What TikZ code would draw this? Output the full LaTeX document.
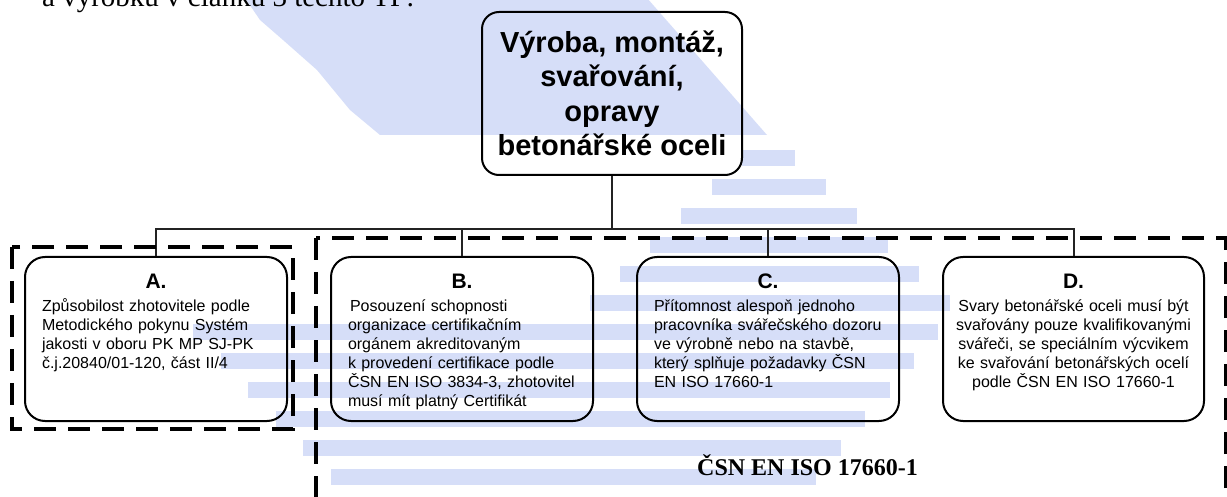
\documentclass[tikz,border=0pt]{standalone}
\usepackage{fontspec}
\setmainfont{Liberation Sans}
\newfontfamily\timesfont{Liberation Serif}
\usetikzlibrary{positioning}
\definecolor{wmblue}{RGB}{214,222,248}
\definecolor{linegray}{RGB}{35,35,35}

\newcommand{\boxhead}[1]{{\centering\fontsize{21}{24}\selectfont\bfseries #1\par}\vspace{4pt}}

\begin{document}
\begin{tikzpicture}[x=1pt, y=-1pt, node distance=42pt,
  topbox/.style={draw, line width=2pt, rounded corners=17pt, minimum width=260pt, minimum height=163pt, align=center, font=\fontsize{29}{34.5}\selectfont\bfseries},
  itembox/.style={draw, line width=2pt, rounded corners=20pt, anchor=north, inner xsep=17pt, inner ysep=8pt, text width=228pt, text height=24pt, text depth=124pt, align=left, font=\fontsize{16}{19}\selectfont},
  conn/.style={line width=2pt, draw=linegray},
  grp/.style={line width=3.5pt, dash pattern=on 22pt off 12pt},
  wm/.style={fill=wmblue, draw=none}]
	\useasboundingbox (0,0) rectangle (1227,497);

	% watermark
	\fill[wm] (245,-2) -- (647,-2) -- (767,135) -- (380,135) -- (350,110) -- (317,70) -- (283,40) -- (260,20) -- cycle;
	\foreach \t/\l/\r in {150/742/795, 179/712/826, 208/681/857, 237/650/888, 266/620/919, 295/590/950,
		324/193/938, 353/221/914, 382/248/890, 411/276/865, 440/303/841, 469/331/816}
		\fill[wm] (\l,\t) rectangle ({\r},{\t+16});

	\node[anchor=base west, inner sep=0, font=\timesfont\fontsize{29}{34}\selectfont] (intro) at (42,7) {a výrobků v článku 3 těchto TP:};

	\node[topbox] (top) at (612,93.5) {Výroba, montáž,\\ svařování,\\ opravy\\ betonářské oceli};

	\node[itembox] (A) at (156,256) {\boxhead{A.}Způsobilost zhotovitele podle\\ Metodického pokynu Systém\\ jakosti v oboru PK MP SJ-PK\\ č.j.20840/01-120, část II/4};
	\node[itembox, right=of A] (B) {\boxhead{B.}\hspace*{2pt}Posouzení schopnosti\\ organizace certifikačním\\ orgánem akreditovaným\\ k provedení certifikace podle\\ ČSN EN ISO 3834-3, zhotovitel\\ musí mít platný Certifikát};
	\node[itembox, right=of B] (C) {\boxhead{C.}Přítomnost alespoň jednoho\\ pracovníka svářečského dozoru\\ ve výrobně nebo na stavbě,\\ který splňuje požadavky ČSN\\ EN ISO 17660-1};
	\node[itembox, right=of C, text width=250pt, inner xsep=5.5pt, align=center] (D) {\boxhead{D.}Svary betonářské oceli musí být\\ svařovány pouze kvalifikovanými\\ svářeči, se speciálním výcvikem\\ ke svařování betonářských ocelí\\ podle ČSN EN ISO 17660-1};

	\coordinate (bus) at (612,229);
	\draw[conn] (top.south) -- (bus);
	\foreach \b in {A,B,C,D}
		\draw[conn] (bus) -| (\b.north);

	% groups
	\draw[grp] (12,247) rectangle (293,429);
	\draw[grp] (316,238) rectangle (1226,520);

	\node[anchor=base west, inner sep=0, font=\timesfont\fontsize{24}{28}\selectfont\bfseries] (norm) at (697,475) {ČSN EN ISO 17660-1};
\end{tikzpicture}
\end{document}
